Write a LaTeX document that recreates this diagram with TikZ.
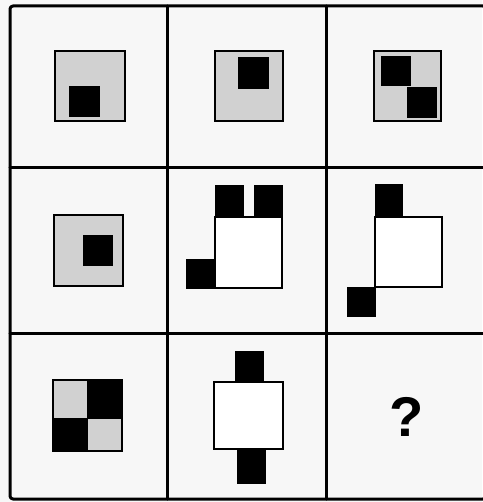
\documentclass[tikz,border=0pt]{standalone}
\usepackage{fontspec}
\newfontfamily\qfont{Liberation Sans}
\begin{document}
\begin{tikzpicture}[x=1pt,y=-1pt,
  gridline/.style={line width=3pt,line cap=round,line join=round},
  graysq/.style={fill=black!18,draw=black,line width=2.4pt},
  whitesq/.style={fill=white,draw=black,line width=2.4pt},
  blk/.style={fill=black,draw=black,line width=0.8pt}]
\useasboundingbox (0,0) rectangle (482,502);
\fill[black!3] (0,0) rectangle (482,502);
% grid
\draw[gridline,rounded corners=3pt] (10,6) rectangle (486,499);
\draw[gridline] (167,6) -- (167,499);
\draw[gridline] (326,6) -- (326,499);
\draw[gridline] (10,168) -- (486,168);
\draw[gridline] (10,333) -- (486,333);
% row 1
\draw[graysq] (55,51) rectangle (125,121);
\draw[blk] (69,86) rectangle (99,116);
\draw[graysq] (215,51) rectangle (283,121);
\draw[blk] (238,57) rectangle (268,88);
\draw[graysq] (374,51) rectangle (441,121);
\draw[blk] (381,56) rectangle (410,85);
\draw[blk] (407,87) rectangle (436,117);
% row 2
\draw[graysq] (54,215) rectangle (123,286);
\draw[blk] (83,235) rectangle (112,265);
\draw[blk] (215,185) rectangle (243,217);
\draw[blk] (254,185) rectangle (282,217);
\draw[blk] (186,259) rectangle (215,288);
\draw[whitesq] (215,217) rectangle (282,288);
\draw[blk] (375,184) rectangle (402,217);
\draw[blk] (347,287) rectangle (375,316);
\draw[whitesq] (375,217) rectangle (442,287);
% row 3
\draw[graysq] (53,380) rectangle (122,451);
\draw[blk] (87,380) rectangle (122,418);
\draw[blk] (53,418) rectangle (87,451);
\draw[line width=2.4pt] (53,380) rectangle (122,451);
\draw[blk] (235,351) rectangle (263,382);
\draw[blk] (237,449) rectangle (265,483);
\draw[whitesq] (214,382) rectangle (283,449);
\node (q) at (407,417) {\qfont\bfseries\fontsize{56}{60}\selectfont ?};
\end{tikzpicture}
\end{document}
